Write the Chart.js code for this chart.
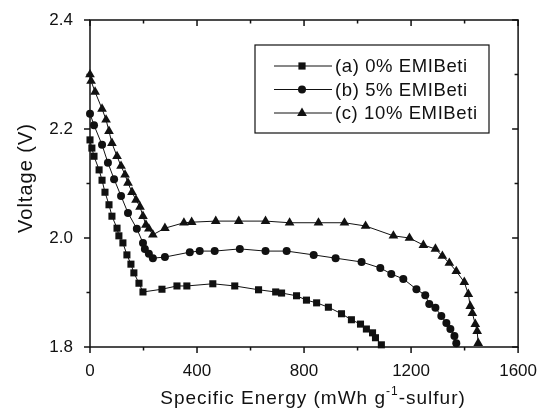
<!DOCTYPE html>
<html>
<head>
<meta charset="utf-8">
<script src="https://cdn.jsdelivr.net/npm/chart.js@4.4.0/dist/chart.umd.min.js"></script>
<style>
  html, body { margin: 0; padding: 0; background: #fff; }
  #wrap { width: 543px; height: 414px; }
</style>
</head>
<body>
<div id="wrap"><canvas id="dischargeChart" width="543" height="414"></canvas></div>
<script>
const seriesNames = ["(a) 0% EMIBeti", "(b) 5% EMIBeti", "(c) 10% EMIBeti"];
const seriesMarkers = ["rect", "circle", "triangle"];

// (a) 0% EMIBeti
const energyA = [0, 7, 15, 34, 45, 56, 71, 82, 101, 108, 123, 138, 153, 164, 183, 198, 269, 325, 362, 459, 541, 630, 694, 716, 772, 809, 847, 891, 940, 977, 1011, 1033, 1056, 1067, 1089];
const voltageA = [2.180, 2.165, 2.150, 2.125, 2.106, 2.084, 2.061, 2.040, 2.018, 2.004, 1.991, 1.969, 1.952, 1.936, 1.917, 1.901, 1.906, 1.912, 1.912, 1.916, 1.912, 1.905, 1.901, 1.899, 1.894, 1.886, 1.881, 1.873, 1.861, 1.850, 1.842, 1.833, 1.826, 1.817, 1.804];

// (b) 5% EMIBeti
const energyB = [0, 15, 45, 67, 90, 116, 142, 175, 198, 205, 220, 235, 280, 373, 410, 466, 560, 656, 735, 836, 918, 1015, 1085, 1126, 1171, 1220, 1253, 1268, 1291, 1313, 1332, 1347, 1362, 1369];
const voltageB = [2.228, 2.207, 2.171, 2.138, 2.108, 2.077, 2.046, 2.017, 1.991, 1.980, 1.971, 1.963, 1.965, 1.974, 1.976, 1.976, 1.980, 1.976, 1.976, 1.969, 1.963, 1.956, 1.945, 1.934, 1.925, 1.906, 1.895, 1.879, 1.872, 1.857, 1.844, 1.833, 1.820, 1.807];

// (c) 10% EMIBeti
const energyC = [0, 4, 19, 45, 60, 71, 82, 101, 116, 131, 142, 157, 172, 187, 198, 209, 220, 235, 280, 351, 380, 470, 556, 656, 746, 854, 951, 1030, 1134, 1194, 1246, 1291, 1317, 1343, 1369, 1399, 1414, 1421, 1429, 1440, 1447, 1451];
const voltageC = [2.300, 2.288, 2.268, 2.237, 2.217, 2.196, 2.174, 2.150, 2.132, 2.116, 2.101, 2.084, 2.070, 2.057, 2.040, 2.024, 2.017, 2.006, 2.018, 2.028, 2.029, 2.031, 2.031, 2.031, 2.028, 2.028, 2.028, 2.022, 2.004, 2.000, 1.987, 1.980, 1.967, 1.954, 1.939, 1.919, 1.897, 1.875, 1.862, 1.842, 1.829, 1.807];

const xMajorTicks = [0, 400, 800, 1200, 1600];
const xMinorTicks = [200, 600, 1000, 1400];
const yMajorTicks = [1.8, 2.0, 2.2, 2.4];
const yMinorTicks = [1.9, 2.1, 2.3];

const FONT = "'Liberation Sans', Arial, sans-serif";
const INK = "#111";

function toPoints(xs, ys) {
  return xs.map((x, i) => ({ x, y: ys[i] }));
}

function markerPath(ctx, style, x, y) {
  ctx.beginPath();
  if (style === "rect") {
    ctx.rect(x - 3.6, y - 3.6, 7.2, 7.2);
  } else if (style === "circle") {
    ctx.arc(x, y, 4, 0, Math.PI * 2);
  } else {
    ctx.moveTo(x, y - 5.5);
    ctx.lineTo(x + 4.9, y + 3);
    ctx.lineTo(x - 4.9, y + 3);
    ctx.closePath();
  }
  ctx.fill();
}

// frame, in/out ticks, legend box and axis titles
const framePlugin = {
  id: "frame",
  afterDatasetsDraw(chart) {
    const { ctx, chartArea: a, scales } = chart;
    const xs = scales.x, ys = scales.y;
    ctx.save();
    ctx.strokeStyle = INK;
    ctx.lineWidth = 1.5;
    ctx.strokeRect(a.left, a.top, a.right - a.left, a.bottom - a.top);

    ctx.beginPath();
    const xt = (v, len) => {
      const px = xs.getPixelForValue(v);
      ctx.moveTo(px, a.bottom); ctx.lineTo(px, a.bottom + len);
      ctx.moveTo(px, a.top); ctx.lineTo(px, a.top + len);
    };
    const yt = (v, len) => {
      const py = ys.getPixelForValue(v);
      ctx.moveTo(a.left, py); ctx.lineTo(a.left - len, py);
      ctx.moveTo(a.right, py); ctx.lineTo(a.right - len, py);
    };
    xMajorTicks.forEach(v => xt(v, 6));
    xMinorTicks.forEach(v => xt(v, 3.5));
    yMajorTicks.forEach(v => yt(v, 6));
    yMinorTicks.forEach(v => yt(v, 3.5));
    ctx.stroke();

    // legend
    ctx.lineWidth = 1.2;
    ctx.strokeRect(255, 45, 234, 88);
    const rows = [66, 89.5, 113];
    ctx.font = "18.5px " + FONT;
    ctx.letterSpacing = "0.6px";
    ctx.textBaseline = "middle";
    ctx.textAlign = "left";
    rows.forEach((ry, i) => {
      ctx.strokeStyle = INK;
      ctx.lineWidth = 1;
      ctx.beginPath();
      ctx.moveTo(274, ry); ctx.lineTo(332, ry);
      ctx.stroke();
      ctx.fillStyle = INK;
      markerPath(ctx, seriesMarkers[i], 302, ry);
      ctx.fillText(seriesNames[i], 335, ry + 1);
    });

    // y title
    ctx.save();
    ctx.translate(32, 178);
    ctx.rotate(-Math.PI / 2);
    ctx.textAlign = "center";
    ctx.textBaseline = "alphabetic";
    ctx.font = "20px " + FONT;
    ctx.letterSpacing = "1px";
    ctx.fillText("Voltage (V)", 0, 0);
    ctx.restore();

    // x title with superscript
    ctx.letterSpacing = "1px";
    const parts = [["Specific Energy (mWh g", 19, 0], ["-1", 12, -9], ["-sulfur)", 19, 0]];
    let total = 0;
    parts.forEach(p => { ctx.font = p[1] + "px " + FONT; total += ctx.measureText(p[0]).width; });
    let cx = 313 - total / 2;
    ctx.textAlign = "left";
    ctx.textBaseline = "alphabetic";
    parts.forEach(p => {
      ctx.font = p[1] + "px " + FONT;
      ctx.fillText(p[0], cx, 404 + p[2]);
      cx += ctx.measureText(p[0]).width;
    });
    ctx.restore();
  }
};

const pointSets = [
  toPoints(energyA, voltageA),
  toPoints(energyB, voltageB),
  toPoints(energyC, voltageC)
];

const datasets = pointSets.map((pts, i) => ({
  label: seriesNames[i],
  data: pts,
  borderColor: INK,
  borderWidth: 1,
  backgroundColor: INK,
  pointStyle: seriesMarkers[i],
  pointRadius: [5, 4, 5.6][i],
  pointBorderWidth: 0,
  pointHoverRadius: [5, 4, 5.6][i],
  tension: 0,
  clip: false
}));

new Chart(document.getElementById("dischargeChart"), {
  type: "line",
  data: { datasets },
  options: {
    responsive: false,
    animation: false,
    devicePixelRatio: 1,
    layout: { padding: { top: 20, right: 24, left: 0, bottom: 0 } },
    plugins: { legend: { display: false }, tooltip: { enabled: false } },
    scales: {
      x: {
        type: "linear",
        min: 0,
        max: 1600,
        afterFit: s => { s.height = 67; },
        afterBuildTicks: s => { s.ticks = xMajorTicks.map(v => ({ value: v })); },
        grid: { display: false },
        border: { display: false },
        ticks: {
          color: INK,
          font: { family: FONT, size: 17 },
          padding: 6,
          maxRotation: 0,
          callback: v => String(v)
        }
      },
      y: {
        type: "linear",
        min: 1.8,
        max: 2.4,
        afterFit: s => { s.width = 90; },
        afterBuildTicks: s => { s.ticks = yMajorTicks.map(v => ({ value: v })); },
        grid: { display: false },
        border: { display: false },
        ticks: {
          color: INK,
          font: { family: FONT, size: 17 },
          padding: 9,
          callback: v => v.toFixed(1)
        }
      }
    }
  },
  plugins: [framePlugin]
});
</script>
</body>
</html>
